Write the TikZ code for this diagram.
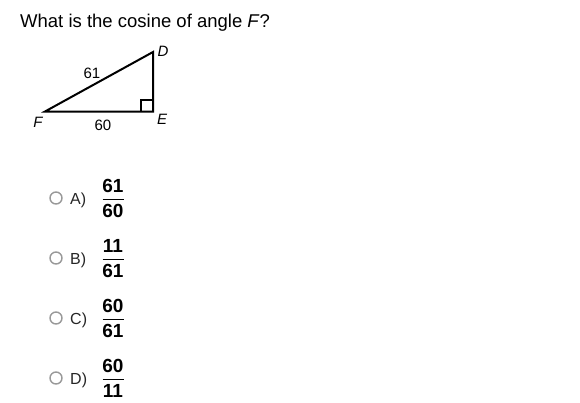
\documentclass[tikz,border=0pt]{standalone}
\usepackage{fontspec}
\setmainfont{Liberation Sans}
\begin{document}
\begin{tikzpicture}[x=1pt,y=-1pt,
  titletext/.style={anchor=base west,inner sep=0,font=\fontsize{18.5}{21}\selectfont},
  vlabel/.style={inner sep=0,font=\fontsize{15}{17}\selectfont\itshape},
  slabel/.style={inner sep=0,font=\fontsize{15}{17}\selectfont},
  radio/.style={circle,draw=gray!80,line width=1.4,fill=white,minimum size=12pt,inner sep=0},
  optlabel/.style={anchor=base west,inner sep=0,text=black!85,font=\fontsize{16}{18}\selectfont},
  fracnum/.style={inner sep=0,font=\fontsize{19}{21}\selectfont\bfseries},
  fracbar/.style={line width=1},
  side/.style={line width=2,line join=miter},
  rightmark/.style={line width=1.2}]
\useasboundingbox (0,0) rectangle (580,402);
\node[titletext] (title) at (20,27.5) {What is the cosine of angle \textit{F}?};
\coordinate (F) at (45,111.5);
\coordinate (E) at (153,111.5);
\coordinate (D) at (153,52);
\draw[side] (F) -- (E) -- (D) -- cycle;
\draw[rightmark] (141,111.5) -- (141,100) -- (153,100);
\node[vlabel] (lD) at (163,51) {D};
\node[vlabel] (lE) at (162,119) {E};
\node[vlabel] (lF) at (38,122) {F};
\node[slabel] (l61) at (92,73) {61};
\node[slabel] (l60) at (103,125) {60};
\foreach \l/\n/\d/\y in {A/61/60/198, B/11/61/258, C/60/61/318, D/60/11/378}{
  \node[radio] (radio\l) at (56,\y) {};
  \node[optlabel] (lab\l) at (70,{\y+6}) {\l)};
  \node[fracnum] (num\l) at (113,{\y-12}) {\n};
  \node[fracnum] (den\l) at (113,{\y+13}) {\d};
  \draw[fracbar] (102.5,{\y+1}) -- (123.5,{\y+1});
}
\end{tikzpicture}
\end{document}
